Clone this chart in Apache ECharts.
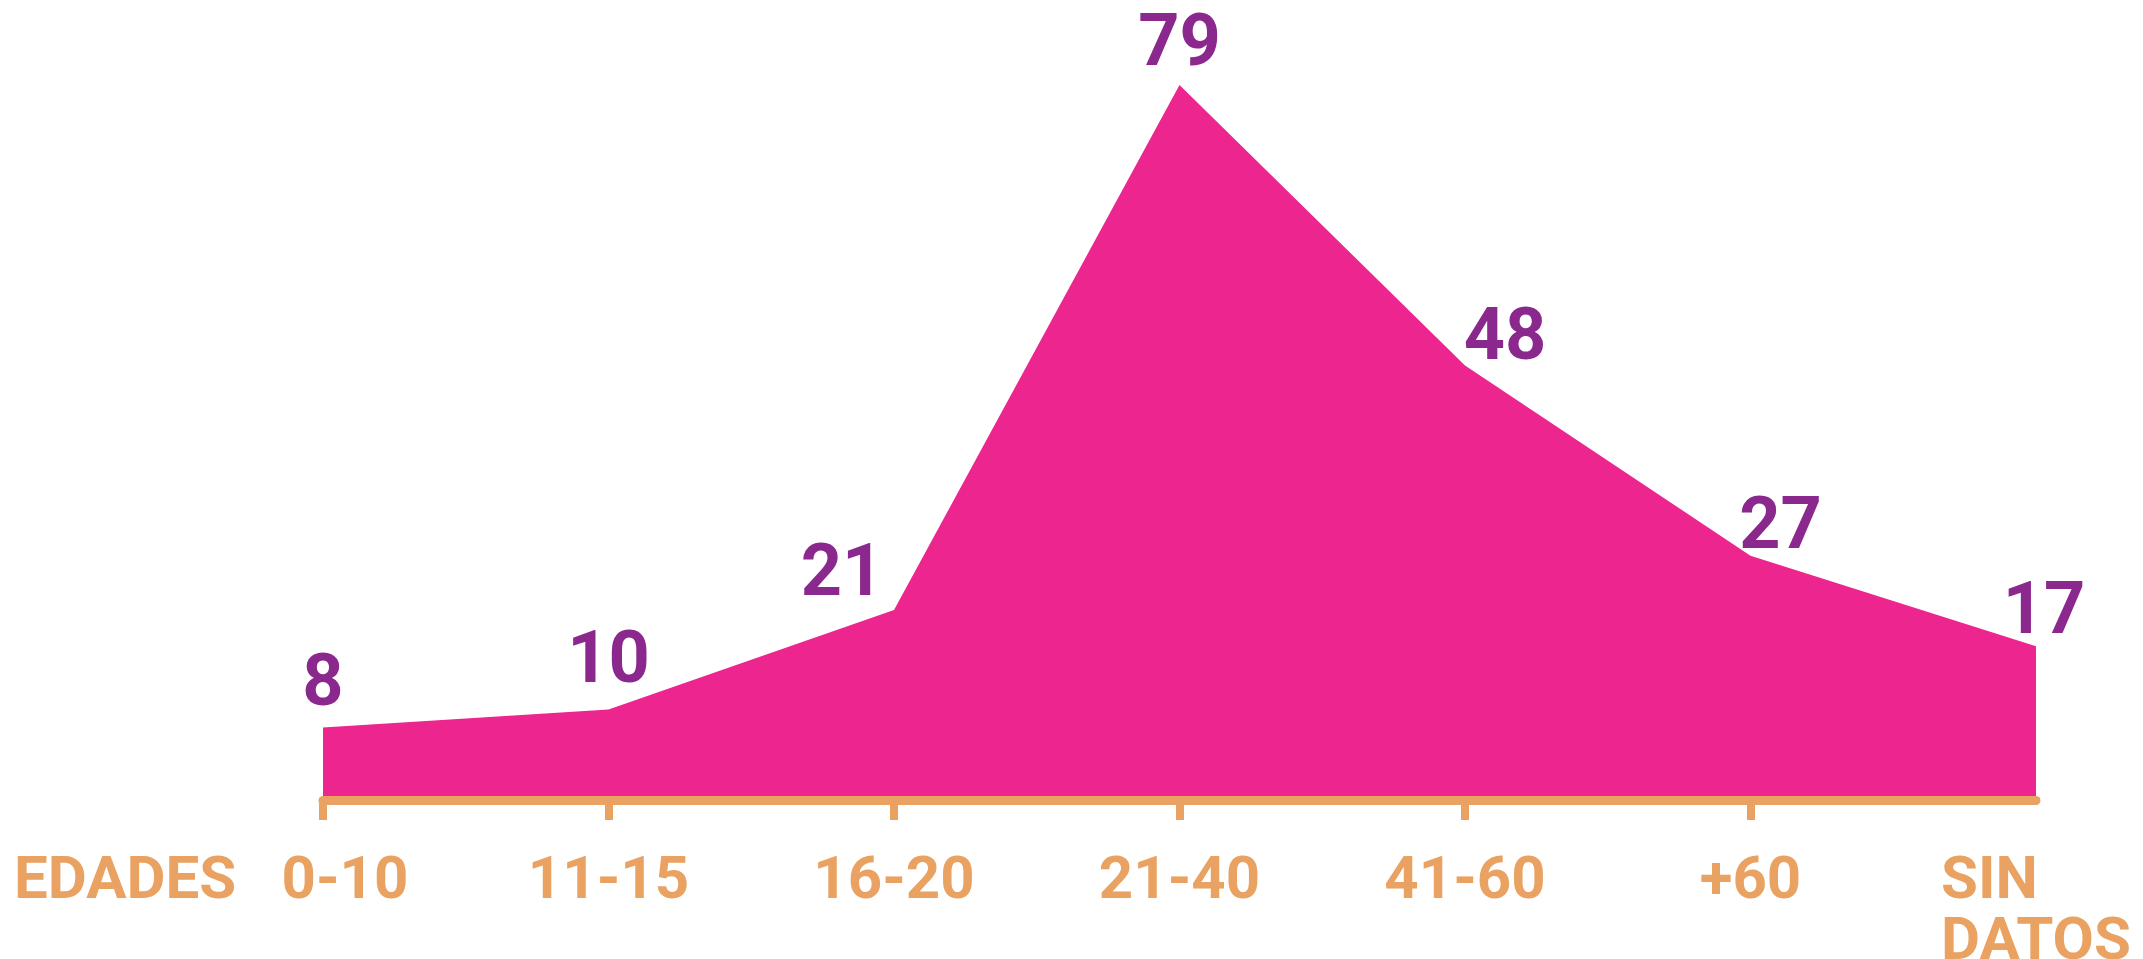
<!DOCTYPE html>
<html>
<head>
<meta charset="utf-8">
<script src="https://cdn.jsdelivr.net/npm/echarts@6/dist/echarts.min.js"></script>
<style>
html,body{margin:0;padding:0;background:#fff;}
#chart{width:2143px;height:959px;}
</style>
</head>
<body>
<div id="chart"></div>
<script>
var categories = ['0-10', '11-15', '16-20', '21-40', '41-60', '+60', 'SIN DATOS'];
var values = [8, 10, 21, 79, 48, 27, 17];
var axisTitle = 'EDADES';

var FONT = "Roboto, 'Liberation Sans', sans-serif";
var PINK = '#EC258F';
var PURPLE = '#8B288E';
var ORANGE = '#E9A261';
// label nudges (style only): [dx, dy]
var nudges = [[0, 2], [0, -2], [-52, 10], [0, 5], [40, 18], [30, 17], [8, 12]];
// category label left padding (style only)
var catPad = [44, 0, 0, 0, 0, 0, 0];

var chart = echarts.init(document.getElementById('chart'));
var seriesData = values.map(function (v, i) {
  return { value: v, label: { offset: nudges[i] } };
});
var catData = categories.map(function (c, i) {
  return catPad[i] ? { value: c, textStyle: { padding: [0, 0, 0, catPad[i]] } } : c;
});
chart.setOption({
  animation: false,
  grid: { left: 323, right: 107, top: 85, bottom: 159, containLabel: false, outerBoundsMode: 'none' },
  xAxis: {
    type: 'category',
    boundaryGap: false,
    data: catData,
    z: 5,
    axisLine: { show: true, lineStyle: { color: ORANGE, width: 9 } },
    axisTick: {
      show: true, length: 20, lineStyle: { color: ORANGE, width: 8 },
      interval: function (idx) { return idx < categories.length - 1; }
    },
    axisLabel: {
      interval: 0,
      hideOverlap: false,
      margin: 52,
      color: ORANGE,
      fontFamily: FONT,
      fontWeight: 'bold',
      fontSize: 60,
      lineHeight: 61,
      formatter: function (v) {
        if (v.indexOf(' ') > 0) {
          return v.split(' ').map(function (w) { return '{l|' + w + '}'; }).join('\n');
        }
        return v;
      },
      rich: {
        l: { align: 'left', color: ORANGE, fontFamily: FONT, fontWeight: 'bold', fontSize: 60, lineHeight: 61 }
      }
    },
    splitLine: { show: false }
  },
  yAxis: {
    type: 'value', min: 0, max: 'dataMax', show: false,
    splitLine: { show: false }
  },
  graphic: [{
    type: 'text', left: 14, top: 853,
    style: { text: axisTitle, fill: ORANGE, font: 'bold 60px ' + FONT }
  }],
  series: [{
    type: 'line',
    data: seriesData,
    symbol: 'circle',
    symbolSize: 2,
    showSymbol: true,
    itemStyle: { color: 'rgba(0,0,0,0)' },
    lineStyle: { width: 0 },
    areaStyle: { color: PINK, opacity: 1 },
    z: 1,
    label: {
      show: true, position: 'top', distance: 6,
      color: PURPLE, fontFamily: FONT, fontWeight: 'bold', fontSize: 72
    }
  }]
});
</script>
</body>
</html>
